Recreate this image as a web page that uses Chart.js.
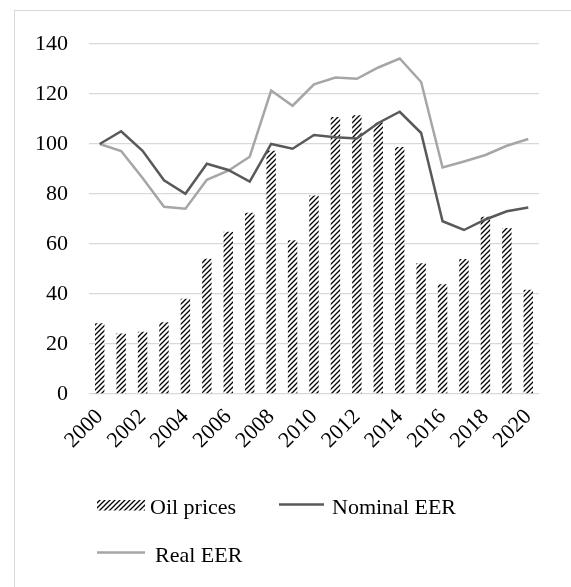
<!DOCTYPE html>
<html>
<head>
<meta charset="utf-8">
<script src="https://cdn.jsdelivr.net/npm/chart.js@4"></script>
<style>
  html, body { margin: 0; padding: 0; background: #fff; overflow: hidden; }
  #frame { position: absolute; left: 14px; top: 10px; width: 700px; height: 700px; border: 1px solid #d9d9d9; }
  #wrap { position: absolute; left: 0; top: 0; width: 571px; height: 587px; }
</style>
</head>
<body>
<div id="frame"></div>
<div id="wrap"><canvas id="chart"></canvas></div>
<script>
// data
const years = ["2000","2001","2002","2003","2004","2005","2006","2007","2008","2009","2010",
               "2011","2012","2013","2014","2015","2016","2017","2018","2019","2020"];
const oilPrices = [28.3, 24.2, 24.9, 28.7, 38.1, 54.1, 64.9, 72.5, 97.3, 61.5, 79.4,
                   110.8, 111.5, 108.6, 98.8, 52.3, 43.9, 54.0, 70.9, 66.4, 41.7];
const nominalEER = [100, 105.1, 97.3, 85.5, 80.1, 92.1, 89.6, 85.0, 100, 98.1, 103.6,
                    102.7, 102.2, 108.4, 112.9, 104.4, 69.1, 65.6, 69.8, 73.1, 74.6];
const realEER = [100, 97.2, 86.4, 74.9, 74.1, 85.7, 89.3, 94.9, 121.4, 115.3, 123.9,
                 126.6, 126.1, 130.6, 134.2, 124.8, 90.6, 93.0, 95.6, 99.3, 102.0];
const yTicks = [0, 20, 40, 60, 80, 100, 120, 140];

const FONT = "'Liberation Serif', 'Times New Roman', serif";

function makeHatch() {
  const c = document.createElement("canvas");
  c.width = 5; c.height = 5;
  const g = c.getContext("2d");
  g.fillStyle = "#fff";
  g.fillRect(0, 0, 5, 5);
  g.strokeStyle = "#000";
  g.lineWidth = 1.3;
  g.beginPath();
  g.moveTo(-1, 6); g.lineTo(6, -1);
  g.moveTo(-1, 1); g.lineTo(1, -1);
  g.moveTo(4, 6); g.lineTo(6, 4);
  g.stroke();
  return g.createPattern(c, "repeat");
}
const hatch = makeHatch();

// legend laid out like the original (two rows, left aligned)
const legendPlugin = {
  id: "customLegend",
  afterDraw(chart) {
    const ctx = chart.ctx;
    ctx.save();
    ctx.font = "22px " + FONT;
    ctx.fillStyle = "#000";
    ctx.textBaseline = "alphabetic";

    ctx.fillStyle = hatch;
    ctx.fillRect(97, 500, 48, 10.5);
    ctx.fillStyle = "#000";
    ctx.fillText(chart.data.datasets[0].label, 150, 514);

    ctx.strokeStyle = chart.data.datasets[1].borderColor;
    ctx.lineWidth = 2.5;
    ctx.beginPath(); ctx.moveTo(279, 504.5); ctx.lineTo(324, 504.5); ctx.stroke();
    ctx.fillText(chart.data.datasets[1].label, 332, 514);

    ctx.strokeStyle = chart.data.datasets[2].borderColor;
    ctx.beginPath(); ctx.moveTo(97, 552.5); ctx.lineTo(145, 552.5); ctx.stroke();
    ctx.fillText(chart.data.datasets[2].label, 155, 562);
    ctx.restore();
  }
};

new Chart(document.getElementById("chart"), {
  type: "bar",
  data: {
    labels: years,
    datasets: [
      {
        label: "Oil prices",
        data: oilPrices,
        backgroundColor: hatch,
        borderWidth: 0,
        barPercentage: 0.44,
        categoryPercentage: 1,
        order: 3
      },
      {
        type: "line",
        label: "Nominal EER",
        data: nominalEER,
        borderColor: "#595959",
        borderWidth: 2.5,
        pointRadius: 0,
        tension: 0,
        order: 1
      },
      {
        type: "line",
        label: "Real EER",
        data: realEER,
        borderColor: "#a6a6a6",
        borderWidth: 2.5,
        pointRadius: 0,
        tension: 0,
        order: 2
      }
    ]
  },
  options: {
    responsive: true,
    maintainAspectRatio: false,
    animation: false,
    layout: { padding: { left: 0, right: 32, top: 44, bottom: 0 } },
    plugins: { legend: { display: false }, tooltip: { enabled: false } },
    scales: {
      x: {
        grid: { display: false },
        border: { display: false },
        ticks: {
          color: "#000",
          font: { family: FONT, size: 22 },
          minRotation: 45,
          maxRotation: 45,
          autoSkip: false,
          padding: 2,
          callback: (v, i) => (i % 2 === 0 ? years[i] : "")
        },
        afterFit: s => { s.height = 193; }
      },
      y: {
        min: 0,
        max: 140,
        afterBuildTicks: s => { s.ticks = yTicks.map(v => ({ value: v })); },
        grid: { color: "#d9d9d9", lineWidth: 1.3, drawTicks: false },
        border: { display: false },
        ticks: {
          color: "#000",
          font: { family: FONT, size: 22 },
          padding: 21
        },
        afterFit: s => { s.width = 89; }
      }
    }
  },
  plugins: [legendPlugin]
});
</script>
</body>
</html>
